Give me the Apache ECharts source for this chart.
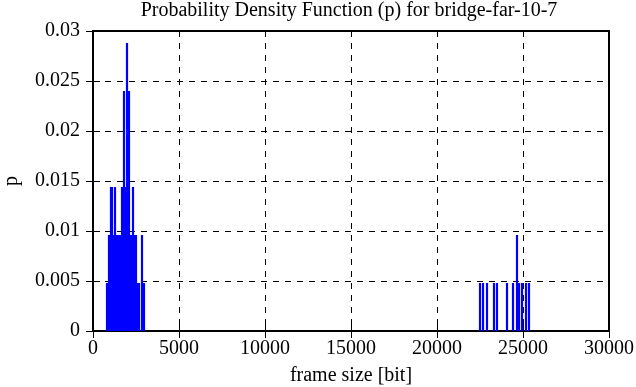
<!DOCTYPE html>
<html>
<head>
<meta charset="utf-8">
<script src="https://cdn.jsdelivr.net/npm/echarts@6/dist/echarts.min.js"></script>
<style>
html,body{margin:0;padding:0;background:#fff;}
#c{width:636px;height:387px;}
</style>
</head>
<body>
<div id="c"></div>
<script>
const titleText = 'Probability Density Function (p) for bridge-far-10-7';
const xLabel = 'frame size [bit]';
const yLabel = 'p';
const xTicks = [0, 5000, 10000, 15000, 20000, 25000, 30000];
const yTicks = [0, 0.005, 0.01, 0.015, 0.02, 0.025, 0.03];

// frame sizes (bit) and their probabilities — low-size cluster
const lowSizes = [785, 843, 901, 959, 1017, 1076, 1134, 1192, 1250, 1308, 1366, 1424, 1483, 1541, 1599, 1657, 1715,
  1773, 1831, 1890, 1948, 2006, 2064, 2122, 2180, 2238, 2297, 2355, 2413, 2471, 2529, 2587, 2645, 2704, 2820, 2878, 2936, 2994];
const lowProbs = [0.0048, 0.0048, 0.0096, 0.0096, 0.0144, 0.0144, 0.0144, 0.0096, 0.0144, 0.0144, 0.0096, 0.0096, 0.0096, 0.0096, 0.0096, 0.0144, 0.0144,
  0.024, 0.024, 0.0144, 0.0288, 0.0288, 0.024, 0.024, 0.0096, 0.0096, 0.0144, 0.0144, 0.0096, 0.0096, 0.0096, 0.0048, 0.0048, 0.0048, 0.0096, 0.0096, 0.0048, 0.0048];
// high-size cluster
const highSizes = [22471, 22529, 22646, 22704, 22878, 22936, 23285, 23343, 23459, 23517, 24041, 24099,
  24390, 24448, 24622, 24681, 24739, 24797, 24913, 24971, 25146, 25204, 25320, 25378];
const highProbs = [0.0048, 0.0048, 0.0048, 0.0048, 0.0048, 0.0048, 0.0048, 0.0048, 0.0048, 0.0048, 0.0048, 0.0048,
  0.0048, 0.0048, 0.0096, 0.0096, 0.0048, 0.0048, 0.0048, 0.0048, 0.0048, 0.0048, 0.0048, 0.0048];

const data = lowSizes.map((s, i) => [s, lowProbs[i]]).concat(highSizes.map((s, i) => [s, highProbs[i]]));
const font = 'Liberation Serif';
const fmtY = v => String(+v.toFixed(3));

const chart = echarts.init(document.getElementById('c'), null, {renderer: 'canvas'});
chart.setOption({
  animation: false,
  backgroundColor: '#fff',
  title: {
    text: titleText, left: 344, textAlign: 'center', top: -4,
    textStyle: {fontFamily: font, fontSize: 20, fontWeight: 'normal', color: '#000'}
  },
  grid: {left: 93, right: 27, top: 31, bottom: 56, containLabel: false, outerBoundsMode: 'none',
    show: true, borderColor: '#000', borderWidth: 2, backgroundColor: 'transparent'},
  xAxis: [{
    type: 'value', min: xTicks[0], max: xTicks[xTicks.length - 1], interval: 5000,
    name: xLabel, nameLocation: 'middle', nameGap: 35,
    nameTextStyle: {fontFamily: font, fontSize: 20, color: '#000'},
    axisLine: {show: true, onZero: false, lineStyle: {color: '#000', width: 2}},
    axisTick: {show: true, inside: true, length: 7, lineStyle: {color: '#000', width: 1}},
    axisLabel: {fontFamily: font, fontSize: 20, color: '#000', margin: 8, formatter: v => String(v)},
    splitLine: {show: true, lineStyle: {color: '#000', type: [6, 6], width: 1}}
  }, {
    type: 'value', position: 'top', min: xTicks[0], max: xTicks[xTicks.length - 1], interval: 5000,
    axisLine: {show: true, lineStyle: {color: '#000', width: 2}},
    axisTick: {show: true, inside: true, length: 7, lineStyle: {color: '#000', width: 1}},
    axisLabel: {show: false}, splitLine: {show: false}
  }],
  yAxis: [{
    type: 'value', min: yTicks[0], max: yTicks[yTicks.length - 1], interval: 0.005,
    name: yLabel, nameLocation: 'middle', nameGap: 71, nameRotate: 90,
    nameTextStyle: {fontFamily: font, fontSize: 20, color: '#000'},
    axisLine: {show: true, onZero: false, lineStyle: {color: '#000', width: 2}},
    axisTick: {show: true, inside: true, length: 7, lineStyle: {color: '#000', width: 1}},
    axisLabel: {fontFamily: font, fontSize: 20, color: '#000', margin: 13, formatter: fmtY},
    splitLine: {show: true, lineStyle: {color: '#000', type: [6, 6], width: 1}}
  }, {
    type: 'value', position: 'right', min: yTicks[0], max: yTicks[yTicks.length - 1], interval: 0.005,
    axisLine: {show: true, lineStyle: {color: '#000', width: 2}},
    axisTick: {show: true, inside: true, length: 7, lineStyle: {color: '#000', width: 1}},
    axisLabel: {show: false}, splitLine: {show: false}
  }],
  series: [{
    type: 'bar', xAxisIndex: 0, yAxisIndex: 0,
    data: data, barWidth: 1.2,
    itemStyle: {color: '#0000ff'},
    z: 3
  }]
});
</script>
</body>
</html>
